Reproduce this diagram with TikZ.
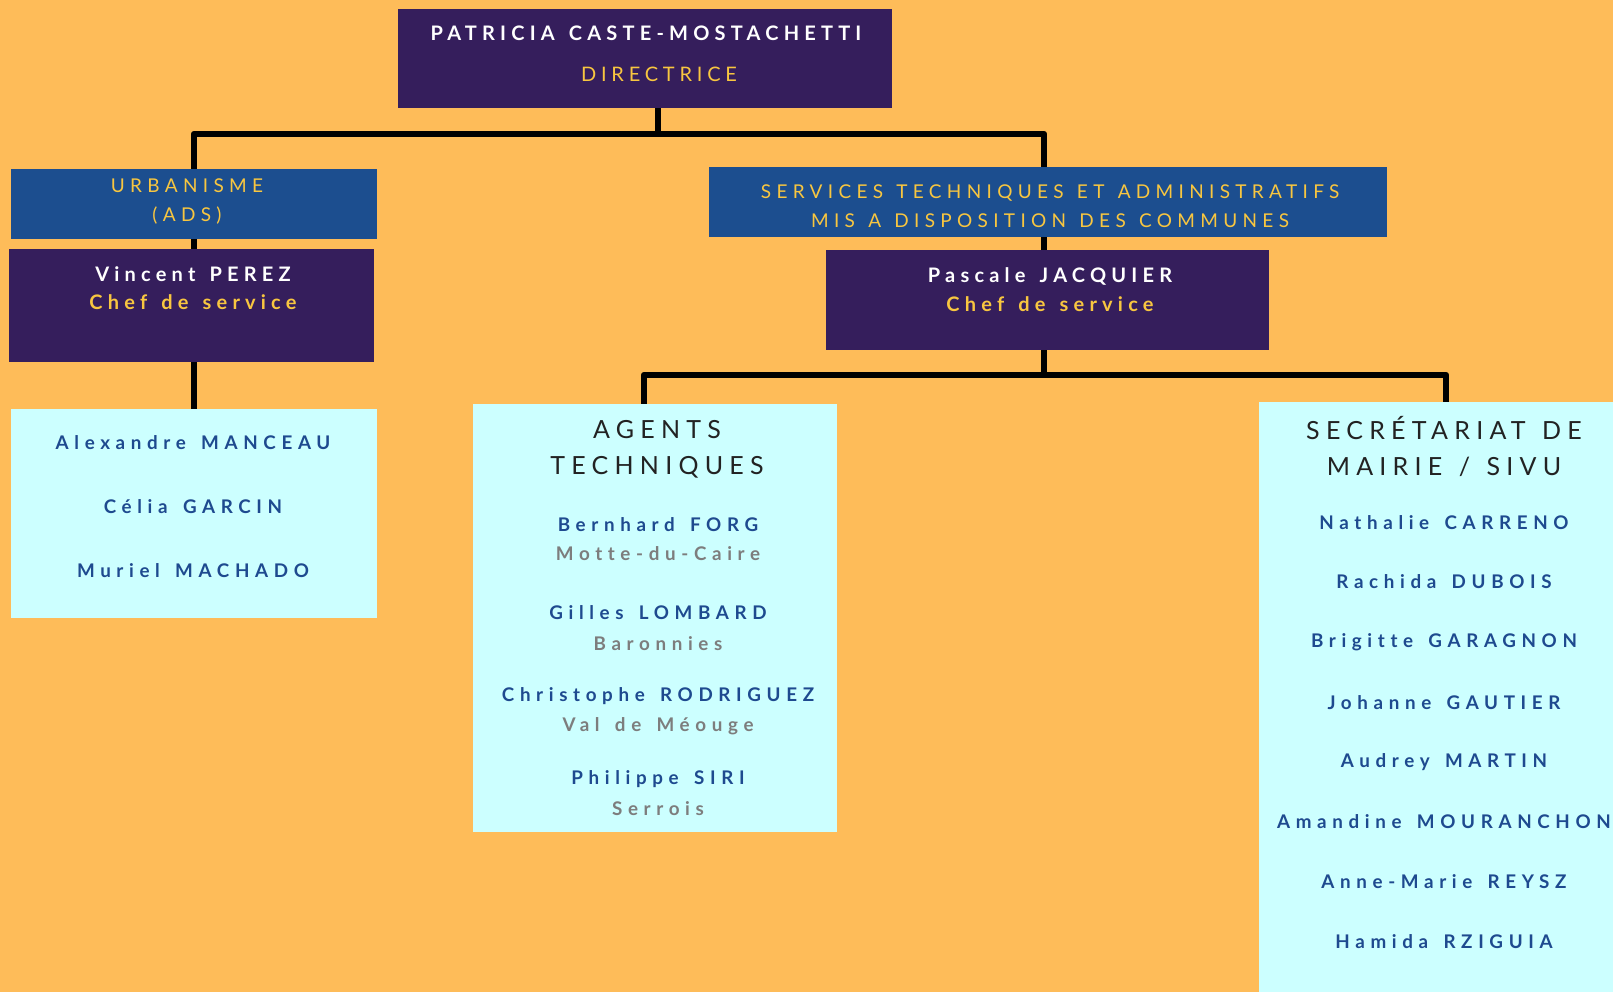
\documentclass[tikz,border=0pt]{standalone}
\usepackage{fontspec}
\setmainfont{Lato}
\newfontfamily\bossfont[LetterSpace=26, WordSpace=1.4, Ligatures=CommonOff]{Lato}
\newfontfamily\rolefont[LetterSpace=24, Ligatures=CommonOff]{Lato}
\newfontfamily\titlefont[LetterSpace=28, WordSpace=1.3, Ligatures=CommonOff]{Lato}
\newfontfamily\headfont[LetterSpace=25, WordSpace=1.3, Ligatures=CommonOff]{Lato}
\newfontfamily\listfont[LetterSpace=30, WordSpace=1.5, Ligatures=CommonOff]{Lato}
\usetikzlibrary{positioning}
\definecolor{bgorange}{RGB}{254,188,89}
\definecolor{deeppurple}{RGB}{53,30,92}
\definecolor{unitblue}{RGB}{28,78,143}
\definecolor{paleblue}{RGB}{204,255,255}
\definecolor{gold}{RGB}{248,198,64}
\definecolor{nameblue}{RGB}{30,74,143}
\definecolor{placegray}{RGB}{125,125,125}
\definecolor{inkdark}{RGB}{34,34,34}
\tikzstyle{chief} = [rectangle, inner sep=0pt, fill=deeppurple]
\tikzstyle{unit} = [rectangle, inner sep=0pt, fill=unitblue]
\tikzstyle{team} = [rectangle, inner sep=0pt, fill=paleblue]
\tikzstyle{boss} = [font=\bossfont\bfseries\fontsize{20}{24}\selectfont, text=white]
\tikzstyle{role} = [font=\rolefont\fontsize{20}{24}\selectfont, text=gold]
\tikzstyle{chefrole} = [font=\bossfont\bfseries\fontsize{20}{24}\selectfont, text=gold]
\tikzstyle{unittitle} = [font=\titlefont\fontsize{19}{23}\selectfont, text=gold]
\tikzstyle{teamtitle} = [font=\headfont\fontsize{25}{30}\selectfont, text=inkdark]
\tikzstyle{member} = [font=\listfont\bfseries\fontsize{18.8}{22}\selectfont, text=nameblue]
\tikzstyle{place} = [font=\listfont\bfseries\fontsize{18.8}{22}\selectfont, text=placegray]
\tikzstyle{link} = [line width=6.5pt, black, line join=round]

\begin{document}
\begin{tikzpicture}[x=1pt, y=-1pt]

\fill [bgorange] (0,0) rectangle (1613,992);
\useasboundingbox (0,0) rectangle (1613,992);

% boxes
\node (dir) [chief, minimum width=494pt, minimum height=99pt] at (645,58.5) {};
\node (urba) [unit, minimum width=366pt, minimum height=70pt] at (194,204) {};
\node (vinc) [chief, minimum width=365pt, minimum height=113pt] at (191.5,305.5) {};
\node (urbateam) [team, minimum width=366pt, minimum height=209pt] at (194,513.5) {};
\node (serv) [unit, minimum width=678pt, minimum height=70pt] at (1048,202) {};
\node (pasc) [chief, minimum width=443pt, minimum height=100pt] at (1047.5,300) {};
\node (agents) [team, minimum width=364pt, minimum height=428pt] at (655,618) {};
\node (secr) [team, minimum width=354pt, minimum height=590pt] at (1436,697) {};

% links
\coordinate (topbar) at (658,134);
\coordinate (midbar) at (1044,375);
\draw [link] (dir.south -| topbar) -- (topbar);
\draw [link] (urba.north) |- (topbar) -| ([xshift=-4pt]serv.north);
\draw [link] (urba.south) -- (urba.south |- vinc.north);
\draw [link] (urba.south |- vinc.south) -- (urba.south |- urbateam.north);
\draw [link] ([xshift=-4pt]serv.south) -- (midbar |- pasc.north);
\draw [link] (midbar |- pasc.south) -- (midbar);
\draw [link] ([xshift=-11pt]agents.north) |- (midbar) -| ([xshift=10pt]secr.north);

% direction
\node (dirname) [boss] at (646,33) {PATRICIA CASTE-MOSTACHETTI};
\node (dirrole) [role] at (659,74) {DIRECTRICE};

% urbanisme
\node (urbatitle) [unittitle, align=center] at (187,202) {URBANISME\\[6pt](ADS)};
\node (vincname) [boss] at (193,274) {Vincent PEREZ};
\node (vincrole) [chefrole] at (193,302) {Chef de service};
\node (alex) [member] at (193,443) {Alexandre MANCEAU};
\node (celia) [member] at (193,507) {Célia GARCIN};
\node (muriel) [member] at (193,571) {Muriel MACHADO};

% services
\node (servtitle) [unittitle, align=center] at (1050,206) {SERVICES TECHNIQUES ET ADMINISTRATIFS\\[6pt]MIS A DISPOSITION DES COMMUNES};
\node (pascname) [boss] at (1050,276) {Pascale JACQUIER};
\node (pascrole) [chefrole] at (1050,304) {Chef de service};

% agents techniques
\node (agentstitle) [teamtitle, align=center] at (657,449) {AGENTS\\[6pt]TECHNIQUES};
\node (forg) [member] at (658,525) {Bernhard FORG};
\node (motte) [place] at (658,554) {Motte-du-Caire};
\node (lombard) [member] at (658,613) {Gilles LOMBARD};
\node (baron) [place] at (658,644) {Baronnies};
\node (rodri) [member] at (658,696) {Christophe RODRIGUEZ};
\node (meouge) [place] at (658,726) {Val de Méouge};
\node (siri) [member] at (658,779) {Philippe SIRI};
\node (serrois) [place] at (658,809) {Serrois};

% secretariat
\node (secrtitle) [teamtitle, align=center] at (1444,446) {SECRÉTARIAT DE\\[6pt]MAIRIE / SIVU};
\node (carreno) [member] at (1444,523) {Nathalie CARRENO};
\node (dubois) [member] at (1444,582) {Rachida DUBOIS};
\node (garagnon) [member] at (1444,642) {Brigitte GARAGNON};
\node (gautier) [member] at (1444,703) {Johanne GAUTIER};
\node (martin) [member] at (1444,762) {Audrey MARTIN};
\node (mouran) [member] at (1444,822) {Amandine MOURANCHON};
\node (reysz) [member] at (1444,882) {Anne-Marie REYSZ};
\node (rziguia) [member] at (1444,942) {Hamida RZIGUIA};

\end{tikzpicture}
\end{document}
